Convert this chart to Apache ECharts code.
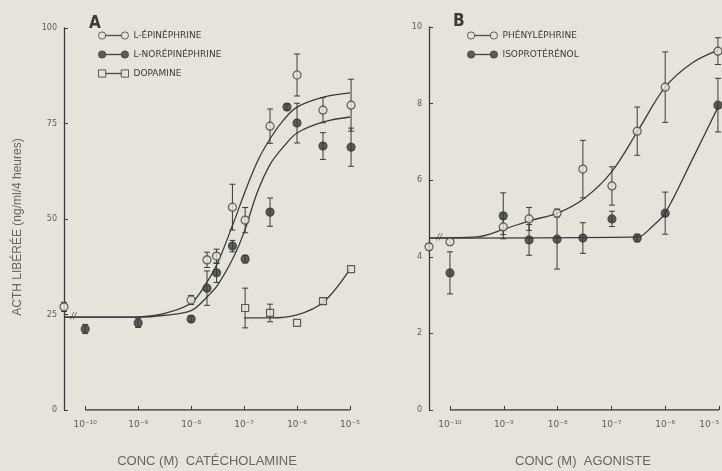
<!DOCTYPE html>
<html>
<head>
<meta charset="utf-8">
<script src="https://cdn.jsdelivr.net/npm/echarts@6/dist/echarts.min.js"></script>
<style>
  html, body { margin: 0; padding: 0; background: #e6e4da; }
  #chart { width: 722px; height: 471px; }
</style>
</head>
<body>
<div id="chart"></div>
<script>
// x values are log10 of the molar concentration
const decades = [-10, -9, -8, -7, -6, -5];

// Panel A : [log10 conc, ACTH, ± error]
const epinephrine = [
  [-10.4, 27.0, 1.2], [-8.0, 28.8, 1.2], [-7.70, 39.3, 2.0], [-7.52, 40.3, 1.8],
  [-7.22, 53.1, 6.0], [-6.98, 49.7, 3.3], [-6.51, 74.3, 4.5], [-6.0, 87.7, 5.5],
  [-5.51, 78.5, 3.3], [-4.98, 79.8, 6.8]
];
const norepinephrine = [
  [-10.0, 21.2, 1.2], [-9.0, 22.8, 1.2], [-8.0, 23.8, 0.8], [-7.70, 31.9, 4.5],
  [-7.52, 35.9, 2.5], [-7.22, 42.9, 1.5], [-6.98, 39.5, 1.0], [-6.51, 51.8, 3.7],
  [-6.19, 79.3, 0.8], [-6.0, 75.1, 5.2], [-5.51, 69.1, 3.5], [-4.98, 68.8, 5.0]
];
const dopamine = [
  [-6.98, 26.7, 5.2], [-6.51, 25.4, 2.3], [-6.0, 22.8, 0], [-5.51, 28.5, 0.8], [-4.98, 36.9, 0]
];
// fitted dose-response curves, panel A
const epiCurve = [
  [-10.4, 24.3], [-9.5, 24.3], [-9.0, 24.4], [-8.5, 25.3], [-8.0, 28.0], [-7.7, 33.5],
  [-7.5, 38.5], [-7.2, 49.0], [-7.0, 56.5], [-6.75, 65.0], [-6.5, 71.2], [-6.25, 76.0],
  [-6.0, 79.3], [-5.5, 81.9], [-5.0, 83.0]
];
const noreCurve = [
  [-10.4, 24.3], [-9.0, 24.3], [-8.5, 24.8], [-8.0, 26.0], [-7.7, 29.6], [-7.5, 32.7],
  [-7.2, 40.0], [-7.0, 46.5], [-6.75, 57.0], [-6.5, 64.5], [-6.25, 69.0], [-6.0, 72.5],
  [-5.5, 75.4], [-5.0, 76.7]
];
const dopaCurve = [[-7.0, 24.1], [-6.5, 24.1], [-6.0, 24.9], [-5.5, 28.3], [-5.0, 36.9]];

// Panel B
const phenylephrine = [
  [-10.39, 4.26, 0.08], [-10.0, 4.39, 0.08], [-9.01, 4.78, 0.2], [-8.53, 4.99, 0.3],
  [-8.01, 5.14, 0.1], [-7.53, 6.29, 0.75], [-6.99, 5.85, 0.5], [-6.52, 7.28, 0.63],
  [-6.0, 8.43, 0.92], [-5.02, 9.37, 0.35]
];
const isoproterenol = [
  [-10.0, 3.58, 0.55], [-9.01, 5.07, 0.6], [-8.53, 4.44, 0.4], [-8.01, 4.46, 0.78],
  [-7.53, 4.49, 0.4], [-6.99, 4.99, 0.2], [-6.52, 4.49, 0.1], [-6.0, 5.14, 0.55],
  [-5.02, 7.96, 0.7]
];
const phenylCurve = [
  [-10.39, 4.49], [-9.5, 4.52], [-9.0, 4.72], [-8.5, 4.95], [-8.0, 5.14], [-7.5, 5.53],
  [-7.0, 6.21], [-6.5, 7.31], [-6.0, 8.43], [-5.5, 9.06], [-5.0, 9.4]
];
const isoCurve = [[-10.39, 4.49], [-6.5, 4.52], [-6.25, 4.78], [-6.0, 5.14], [-5.5, 6.53], [-5.0, 7.96]];

// axis-break marks on the baseline
const breakA = [[-10.22, 24.3]];
const breakB = [[-10.2, 4.5]];

const INK = '#3a3a38';
const BG = '#e6e4da';
const GREY = '#5c5c58';

const SUP = { '-': '\u207B', '0': '\u2070', '1': '\u00B9', '2': '\u00B2', '3': '\u00B3',
  '4': '\u2074', '5': '\u2075', '6': '\u2076', '7': '\u2077', '8': '\u2078', '9': '\u2079' };
const powLabel = v => '10' + String(Math.round(v)).split('').map(c => SUP[c]).join('');

const circleIcon = 'path://M0.5,4a3.5,3.5 0 1,0 7,0a3.5,3.5 0 1,0 -7,0zM7.5,3.8h15v0.4h-15zM22.5,4a3.5,3.5 0 1,0 7,0a3.5,3.5 0 1,0 -7,0z';
const squareIcon = 'path://M0.5,0.5h7v7h-7zM7.5,3.8h15v0.4h-15zM22.5,0.5h7v7h-7z';

function xAxisFor(grid, min, title, pad, lastAlign) {
  return {
    gridIndex: grid, type: 'value', min: min, max: -5,
    axisLine: { show: false }, splitLine: { show: false },
    axisTick: { customValues: decades, inside: true, length: 4, lineStyle: { color: INK, width: 1 } },
    axisLabel: { customValues: decades, formatter: powLabel, color: GREY, fontSize: 9,
      fontFamily: 'DejaVu Sans', margin: 10, alignMaxLabel: lastAlign },
    name: title, nameLocation: 'middle', nameGap: 45,
    nameTextStyle: { color: '#66665f', fontSize: 13, fontFamily: 'Liberation Sans', padding: pad }
  };
}
function yAxisFor(grid, max, step, title) {
  return {
    gridIndex: grid, type: 'value', min: 0, max: max, interval: step,
    axisLine: { show: true, onZero: false, lineStyle: { color: INK, width: 1.3 } },
    splitLine: { show: false },
    axisTick: { inside: true, length: 4, lineStyle: { color: INK } },
    axisLabel: { color: GREY, fontSize: 8, fontFamily: 'DejaVu Sans', margin: 7 },
    name: title, nameLocation: 'middle', nameGap: 40, nameRotate: 90,
    nameTextStyle: { color: '#66665f', fontSize: 12, fontFamily: 'Liberation Sans', padding: [0, 16, 0, 0] }
  };
}

function errorBars(name, data, xi) {
  return {
    type: 'custom', name: name + ' err', xAxisIndex: xi, yAxisIndex: xi, z: 3, silent: true,
    data: data.filter(d => d[2] > 0), encode: { x: 0, y: 1 },
    renderItem: (params, api) => {
      const x = api.value(0), y = api.value(1), e = api.value(2);
      const t = api.coord([x, y + e]), b = api.coord([x, y - e]);
      const st = { stroke: INK, lineWidth: 1 };
      return { type: 'group', children: [
        { type: 'line', shape: { x1: t[0], y1: t[1], x2: b[0], y2: b[1] }, style: st },
        { type: 'line', shape: { x1: t[0] - 3, y1: t[1], x2: t[0] + 3, y2: t[1] }, style: st },
        { type: 'line', shape: { x1: b[0] - 3, y1: b[1], x2: b[0] + 3, y2: b[1] }, style: st }
      ] };
    }
  };
}
function points(name, data, xi, symbol, filled) {
  return {
    type: 'scatter', name: name, xAxisIndex: xi, yAxisIndex: xi, z: 5, clip: false,
    symbol: symbol, symbolSize: symbol === 'rect' ? 7 : 8,
    itemStyle: { color: filled ? INK : BG, borderColor: INK, borderWidth: 1.2 },
    data: data.map(d => [d[0], d[1]])
  };
}
function curve(name, data, xi, smooth) {
  return {
    type: 'line', name: name, xAxisIndex: xi, yAxisIndex: xi, z: 2, silent: true,
    showSymbol: false, smooth: smooth, data: data,
    lineStyle: { color: INK, width: 1.3 }
  };
}
function breakMark(name, data, xi) {
  return {
    type: 'scatter', name: name, xAxisIndex: xi, yAxisIndex: xi, z: 4, silent: true,
    symbolSize: 1, itemStyle: { color: 'rgba(0,0,0,0)' }, data: data,
    label: { show: true, formatter: '//', position: 'inside', color: INK, fontSize: 8,
      fontStyle: 'italic', fontFamily: 'DejaVu Sans' }
  };
}

const legendText = { color: INK, fontSize: 9, fontFamily: 'DejaVu Sans' };
const titleFont = "'DejaVu Sans Condensed', 'Liberation Sans Narrow', sans-serif";
const option = {
  backgroundColor: BG,
  animation: false,
  title: [
    { text: 'A', left: 84, top: 10, textStyle: { color: INK, fontSize: 17, fontWeight: 'bold', fontFamily: titleFont } },
    { text: 'B', left: 448, top: 8, textStyle: { color: INK, fontSize: 17, fontWeight: 'bold', fontFamily: titleFont } }
  ],
  legend: [
    { left: 93, top: 26, orient: 'vertical', itemWidth: 30, itemHeight: 8, itemGap: 10,
      textStyle: legendText, selectedMode: false,
      data: [
        { name: 'L-ÉPINÉPHRINE', icon: circleIcon, itemStyle: { color: BG, borderColor: INK, borderWidth: 1 } },
        { name: 'L-NORÉPINÉPHRINE', icon: circleIcon, itemStyle: { color: INK, borderColor: INK, borderWidth: 1 } },
        { name: 'DOPAMINE', icon: squareIcon, itemStyle: { color: BG, borderColor: INK, borderWidth: 1 } }
      ] },
    { left: 462, top: 26, orient: 'vertical', itemWidth: 30, itemHeight: 8, itemGap: 10,
      textStyle: legendText, selectedMode: false,
      data: [
        { name: 'PHÉNYLÉPHRINE', icon: circleIcon, itemStyle: { color: BG, borderColor: INK, borderWidth: 1 } },
        { name: 'ISOPROTÉRÉNOL', icon: circleIcon, itemStyle: { color: INK, borderColor: INK, borderWidth: 1 } }
      ] }
  ],
  grid: [
    { left: 64, top: 28, width: 286, height: 382, outerBoundsMode: 'none' },
    { left: 429, top: 27, width: 290, height: 383, outerBoundsMode: 'none' }
  ],
  xAxis: [
    xAxisFor(0, -10.4, 'CONC (M)  CATÉCHOLAMINE', [0, 0, 0, 0], null),
    xAxisFor(1, -10.39, 'CONC (M)  AGONISTE', [0, 0, 0, 18], 'right')
  ],
  yAxis: [
    yAxisFor(0, 100, 25, 'ACTH LIBÉRÉE (ng/ml/4 heures)'),
    yAxisFor(1, 10, 2, '')
  ],
  series: [
    curve('x-axis A', [[decades[0], 0], [decades[decades.length - 1], 0]], 0, false),
    curve('x-axis B', [[decades[0], 0], [decades[decades.length - 1], 0]], 1, false),
    curve('epi fit', epiCurve, 0, 0.35),
    curve('nore fit', noreCurve, 0, 0.35),
    curve('dopa fit', dopaCurve, 0, 0.35),
    curve('phenyl fit', phenylCurve, 1, 0.35),
    curve('iso fit', isoCurve, 1, 0.3),
    errorBars('L-ÉPINÉPHRINE', epinephrine, 0),
    errorBars('L-NORÉPINÉPHRINE', norepinephrine, 0),
    errorBars('DOPAMINE', dopamine, 0),
    errorBars('PHÉNYLÉPHRINE', phenylephrine, 1),
    errorBars('ISOPROTÉRÉNOL', isoproterenol, 1),
    points('L-NORÉPINÉPHRINE', norepinephrine, 0, 'circle', true),
    points('L-ÉPINÉPHRINE', epinephrine, 0, 'circle', false),
    points('DOPAMINE', dopamine, 0, 'rect', false),
    points('ISOPROTÉRÉNOL', isoproterenol, 1, 'circle', true),
    points('PHÉNYLÉPHRINE', phenylephrine, 1, 'circle', false),
    breakMark('break A', breakA, 0),
    breakMark('break B', breakB, 1)
  ]
};

const chart = echarts.init(document.getElementById('chart'), null, { renderer: 'canvas' });
chart.setOption(option);
</script>
</body>
</html>
